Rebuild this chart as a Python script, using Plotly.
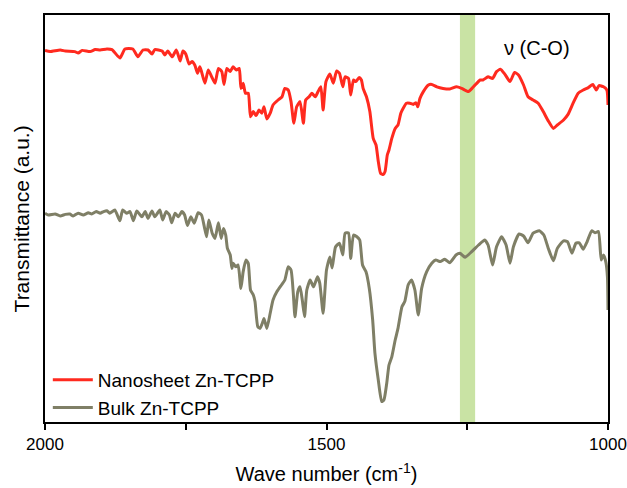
import plotly.graph_objects as go

# FTIR spectra (wavenumber in cm^-1, transmittance in arbitrary units)
nano_wn = [2000, 1991, 1973, 1964, 1947, 1941, 1934, 1920, 1911, 1902, 1890, 1881, 1867, 1858,
           1844, 1835, 1826, 1817, 1810, 1805, 1792, 1787, 1782, 1774, 1767, 1764, 1760, 1755,
           1750, 1744, 1739, 1734, 1729, 1725, 1722, 1716, 1710, 1704, 1698, 1692, 1686, 1682,
           1677, 1671, 1666, 1660, 1655, 1652, 1648, 1644, 1639, 1635, 1630, 1625, 1620, 1615,
           1611, 1606, 1600, 1595, 1586, 1579, 1574, 1568, 1563, 1558, 1553, 1547, 1541, 1537,
           1531, 1526, 1520, 1515, 1510, 1506, 1501, 1494, 1488, 1482, 1477, 1471, 1467, 1461,
           1457, 1452, 1448, 1442, 1438, 1435, 1429, 1423, 1417, 1412, 1408, 1404, 1399, 1396,
           1392, 1389, 1384, 1378, 1373, 1368, 1364, 1358, 1352, 1346, 1341, 1338, 1334, 1328,
           1319, 1313, 1304, 1293, 1281, 1269, 1260, 1248, 1239, 1227, 1222, 1213, 1205, 1198,
           1191, 1183, 1174, 1166, 1159, 1150, 1142, 1133, 1124, 1115, 1106, 1097, 1090, 1079,
           1071, 1062, 1053, 1044, 1035, 1027, 1021, 1016, 1008, 1002, 1000]
nano_t = [92.9, 92.6, 93.0, 92.75, 92.6, 92.25, 92.9, 92.6, 93.1, 93.0, 93.25, 93.1, 91.0, 93.25,
          93.25, 91.3, 93.0, 93.0, 92.0, 93.1, 92.75, 91.75, 92.75, 91.3, 93.0, 92.0, 90.25, 92.75,
          92.0, 89.5, 90.1, 89.25, 87.2, 88.8, 87.6, 84.7, 88.0, 86.3, 84.7, 88.4, 87.6, 84.4,
          88.4, 87.6, 88.8, 88.0, 88.4, 83.4, 84.7, 82.2, 82.2, 76.3, 77.6, 76.6, 78.0, 77.2,
          78.8, 75.75, 77.2, 79.25, 80.5, 81.3, 83.4, 83.0, 80.1, 74.7, 78.8, 80.1, 74.7, 80.5,
          81.3, 82.2, 81.3, 82.6, 83.8, 78.0, 85.1, 87.0, 84.7, 87.75, 87.2, 83.8, 86.3, 85.9,
          81.75, 85.5, 85.1, 86.1, 85.5, 83.4, 81.3, 77.6, 70.9, 69.25, 65.1, 62.2, 61.9, 62.6,
          66.75, 68.0, 70.9, 73.4, 74.25, 77.2, 78.4, 79.7, 79.7, 79.4, 79.8, 78.8, 80.9, 82.6,
          84.25, 84.4, 83.8, 83.4, 83.25, 83.8, 83.4, 82.6, 83.8, 85.5, 85.5, 86.3, 85.9, 87.6,
          88.2, 86.9, 85.1, 87.4, 86.75, 84.25, 81.3, 80.5, 79.7, 77.6, 75.25, 73.4, 74.25, 75.5,
          76.9, 79.7, 82.2, 83.0, 83.6, 84.4, 83.0, 84.1, 83.8, 83.0, 79.25]

bulk_wn = [2000, 1994, 1982, 1973, 1964, 1956, 1950, 1941, 1932, 1923, 1917, 1909, 1902, 1896,
           1890, 1885, 1876, 1867, 1862, 1855, 1849, 1843, 1837, 1828, 1822, 1817, 1810, 1805,
           1796, 1791, 1785, 1779, 1775, 1769, 1763, 1757, 1752, 1747, 1741, 1735, 1728, 1722,
           1717, 1713, 1709, 1703, 1698, 1692, 1687, 1683, 1679, 1676, 1671, 1668, 1666, 1661,
           1657, 1652, 1648, 1643, 1639, 1635, 1630, 1627, 1622, 1618, 1614, 1611, 1606, 1600,
           1595, 1588, 1580, 1574, 1568, 1563, 1559, 1556, 1551, 1547, 1543, 1539, 1535, 1529,
           1523, 1516, 1512, 1506, 1500, 1494, 1490, 1484, 1477, 1471, 1467, 1461, 1457, 1452,
           1446, 1441, 1436, 1430, 1424, 1418, 1414, 1408, 1402, 1398, 1393, 1389, 1384, 1378,
           1373, 1366, 1361, 1355, 1349, 1343, 1337, 1331, 1322, 1313, 1306, 1298, 1290, 1281,
           1270, 1263, 1254, 1242, 1230, 1219, 1213, 1205, 1198, 1189, 1181, 1174, 1168, 1158,
           1150, 1142, 1133, 1122, 1114, 1106, 1097, 1090, 1079, 1072, 1064, 1057, 1051, 1044,
           1037, 1029, 1023, 1017, 1012, 1008, 1004, 1001, 1000]
bulk_t = [52.2, 51.75, 52.0, 51.5, 51.9, 52.0, 51.5, 52.2, 51.75, 52.3, 52.0, 52.6, 52.2, 52.6,
          52.8, 52.2, 53.0, 50.3, 53.0, 52.2, 52.6, 50.3, 52.75, 51.3, 52.6, 50.9, 52.75, 51.3,
          53.0, 50.5, 52.6, 51.75, 49.8, 52.2, 51.3, 52.6, 51.75, 49.1, 51.3, 49.7, 52.3, 51.75,
          48.8, 46.3, 50.5, 47.2, 45.9, 49.8, 45.9, 48.4, 46.75, 43.4, 41.75, 38.4, 39.7, 38.8,
          39.25, 33.4, 37.6, 40.5, 39.7, 33.0, 31.75, 30.1, 23.8, 23.4, 24.7, 25.9, 23.4, 27.2,
          30.5, 32.6, 34.25, 35.5, 38.8, 38.0, 32.2, 26.3, 32.6, 33.8, 30.5, 26.3, 33.0, 35.5,
          33.8, 36.3, 34.7, 27.2, 38.0, 41.25, 38.5, 43.75, 44.7, 41.75, 47.2, 47.3, 40.9, 46.75,
          46.3, 45.5, 39.25, 37.6, 33.4, 25.5, 17.2, 10.5, 5.1, 5.5, 9.7, 14.25, 16.3, 20.5,
          23.4, 28.8, 30.1, 34.25, 35.5, 33.0, 26.75, 33.4, 37.6, 39.7, 40.5, 40.1, 40.7, 39.8,
          41.75, 42.2, 41.2, 42.6, 44.25, 45.5, 44.25, 39.25, 43.8, 46.3, 44.25, 39.7, 43.8, 47.0,
          46.5, 44.8, 47.2, 47.8, 46.75, 43.4, 40.3, 43.4, 45.3, 45.1, 42.2, 44.7, 44.8, 43.2,
          45.1, 47.8, 47.3, 47.6, 40.5, 41.75, 40.1, 36.3, 28.0]

# Highlighted C-O stretching region
band_range = [1263, 1236]
band_label = "\u03bd (C-O)"
label_pos = [1126, 93.5]

FONT = "Arial, Liberation Sans, sans-serif"
LINE = dict(width=3, shape="spline", smoothing=0.5)

fig = go.Figure()

fig.add_shape(type="rect", xref="x", yref="paper",
              x0=band_range[0], x1=band_range[1], y0=0, y1=1,
              fillcolor="#c9e3a4", line=dict(width=0), layer="below")

fig.add_trace(go.Scatter(x=nano_wn, y=nano_t, mode="lines", name="Nanosheet Zn-TCPP",
                         line=dict(color="#ff2a1f", **LINE)))
fig.add_trace(go.Scatter(x=bulk_wn, y=bulk_t, mode="lines", name="Bulk Zn-TCPP",
                         line=dict(color="#7f7f66", **LINE)))

fig.add_annotation(x=label_pos[0], y=label_pos[1], text=band_label, showarrow=False,
                   font=dict(family=FONT, size=20, color="black"))

# y-axis title, centred on the plotting area
fig.add_annotation(xref="paper", yref="paper", x=-0.041, y=0.5,
                   xanchor="center", yanchor="middle", textangle=-90,
                   text="Transmittance (a.u.)", showarrow=False,
                   font=dict(family=FONT, size=21, color="black"))

fig.update_layout(
    width=627, height=488,
    margin=dict(l=45, r=19, t=15, b=66, autoexpand=False),
    paper_bgcolor="white", plot_bgcolor="white",
    font=dict(family=FONT, color="black"),
    showlegend=True,
    legend=dict(x=0.005, y=-0.012, xanchor="left", yanchor="bottom",
                bgcolor="rgba(0,0,0,0)", font=dict(family=FONT, size=19),
                tracegroupgap=0, itemwidth=40),
)

fig.update_xaxes(range=[2000, 1000], automargin=False, showgrid=False, zeroline=False,
                 showline=True, linecolor="black", linewidth=1.5, mirror=True,
                 ticks="outside", ticklen=6, tickwidth=1.5, tickcolor="black",
                 tickmode="linear", tick0=1000, dtick=500,
                 minor=dict(dtick=250, ticks="outside", ticklen=6, tickwidth=1.5,
                            tickcolor="black", showgrid=False),
                 tickfont=dict(family=FONT, size=17),
                 title=dict(text="Wave number (cm<sup>-1</sup>)",
                            font=dict(family=FONT, size=20), standoff=14))
fig.update_yaxes(range=[0, 101.75], automargin=False, showgrid=False, zeroline=False,
                 showline=True, linecolor="black", linewidth=1.5, mirror=True,
                 ticks="", showticklabels=False)

fig.write_html("out.html")
